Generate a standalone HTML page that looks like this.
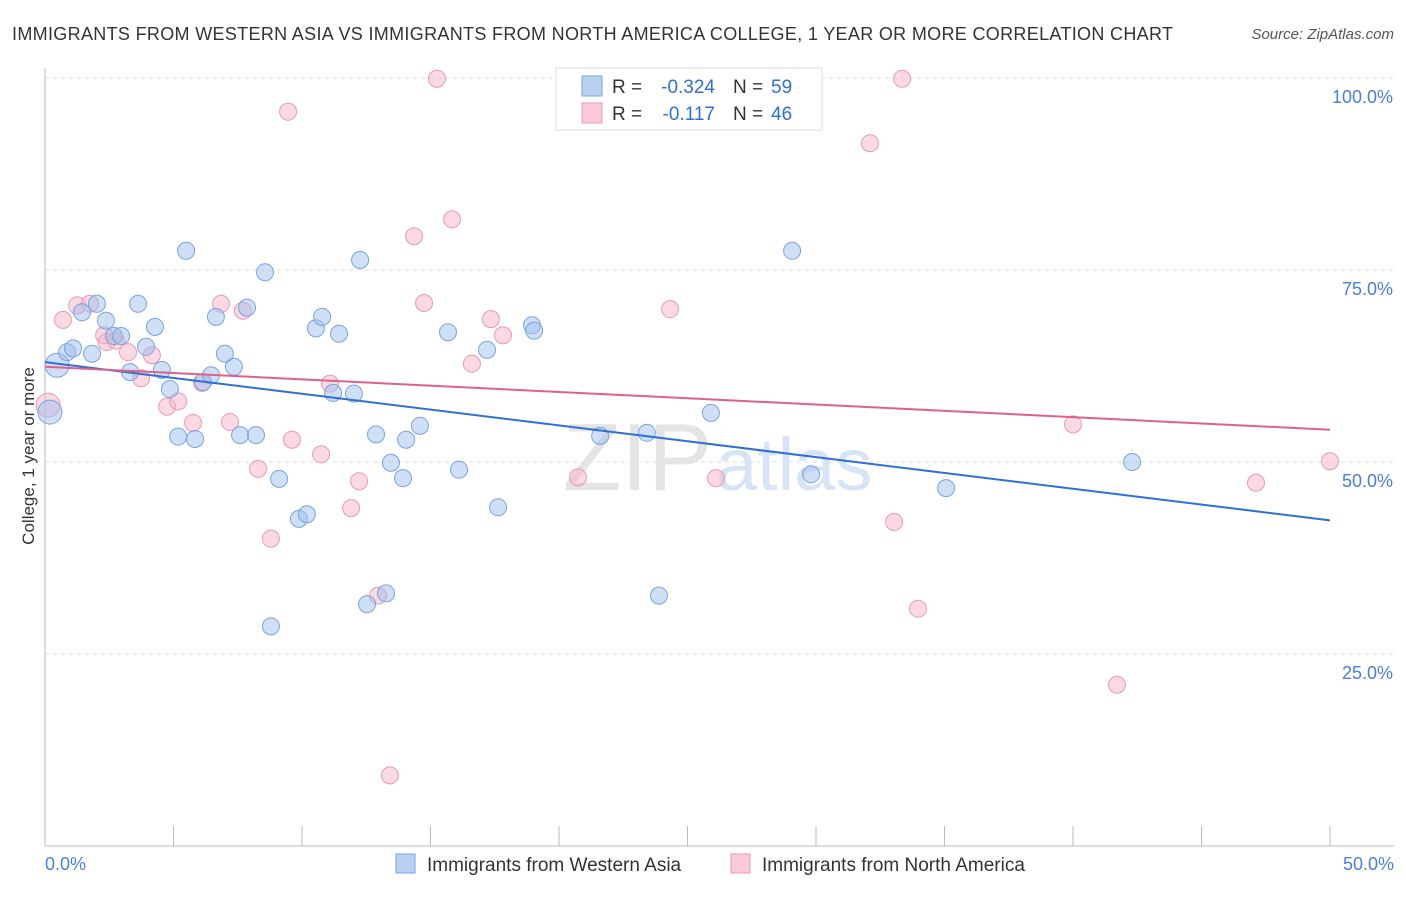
<!DOCTYPE html>
<html><head><meta charset="utf-8"><style>
body{margin:0;background:#fff;font-family:"Liberation Sans",sans-serif;}
svg text{font-family:"Liberation Sans",sans-serif;}
</style></head><body>
<svg id="chart" width="1406" height="892">
<text x="12" y="40" font-size="18" fill="#333" textLength="1161">IMMIGRANTS FROM WESTERN ASIA VS IMMIGRANTS FROM NORTH AMERICA COLLEGE, 1 YEAR OR MORE CORRELATION CHART</text>
<text x="1394" y="39" font-size="15" fill="#555" font-style="italic" text-anchor="end">Source: ZipAtlas.com</text>
<text x="34" y="456" font-size="17" fill="#333" text-anchor="middle" transform="rotate(-90 34 456)">College, 1 year or more</text>
<g id="grid"></g>
<text x="712" y="490" font-size="96" font-family="Liberation Serif" fill="#e4e4e4" text-anchor="end">ZIP</text>
<text x="716" y="490" font-size="74" fill="#d6e4f5">atlas</text>
<g id="pts"></g>
<g id="lines"></g>
<g>
<rect x="556" y="68" width="266" height="62" fill="#fff" stroke="#ddd"/>
<rect x="582" y="76" width="20" height="20" fill="#b9d0f3" stroke="#7aa3e0"/>
<rect x="582" y="103" width="20" height="20" fill="#f9c9d8" stroke="#e89ab3"/>
<text x="612" y="93" font-size="19" fill="#333">R =</text>
<text x="715" y="93" font-size="19" fill="#2f6fd6" text-anchor="end">-0.324</text>
<text x="733" y="93" font-size="19" fill="#333">N =</text>
<text x="771" y="93" font-size="19" fill="#2f6fd6">59</text>
<text x="612" y="120" font-size="19" fill="#333">R =</text>
<text x="715" y="120" font-size="19" fill="#2f6fd6" text-anchor="end">-0.117</text>
<text x="733" y="120" font-size="19" fill="#333">N =</text>
<text x="771" y="120" font-size="19" fill="#2f6fd6">46</text>
</g>
<g>
<rect x="396" y="854" width="19" height="19" fill="#b9d0f3" stroke="#7aa3e0"/>
<text x="427" y="871" font-size="19" fill="#333">Immigrants from Western Asia</text>
<rect x="731" y="854" width="19" height="19" fill="#f9c9d8" stroke="#e89ab3"/>
<text x="762" y="871" font-size="19" fill="#333">Immigrants from North America</text>
</g>
</svg>
<script>
const blueX=[0.19,0.47,0.86,1.09,1.44,1.83,2.02,2.37,2.68,2.96,3.31,3.62,3.93,4.28,4.55,4.86,5.18,5.49,5.84,6.15,6.46,6.65,7.00,7.35,7.59,7.86,8.21,8.56,8.79,9.11,9.88,10.19,10.54,10.78,11.21,11.44,12.02,12.26,12.53,12.88,13.27,13.46,13.93,14.05,14.59,15.68,16.11,17.2,17.63,18.95,19.03,21.6,23.42,23.89,25.91,29.07,29.81,35.06,42.3];
const blueY=[56.5,62.6,64.3,64.8,69.5,64.1,70.6,68.4,66.4,66.4,61.7,70.6,65.0,67.6,62.0,59.5,53.3,77.5,53.0,60.4,61.3,68.9,64.1,62.4,53.5,70.1,53.5,74.7,28.6,47.8,42.6,43.2,67.4,68.9,59.0,66.7,58.9,76.3,31.5,53.6,32.9,49.9,47.9,52.9,54.7,66.9,49.0,64.6,44.1,67.8,67.1,53.4,53.8,32.6,56.4,77.5,48.4,46.6,50.0];
const pinkX=[0.12,0.7,1.25,1.75,2.3,2.4,2.76,3.23,3.74,4.16,4.75,5.18,5.76,6.11,6.85,7.2,7.7,8.29,8.79,9.46,9.61,10.74,11.09,11.91,12.22,12.96,13.42,14.36,14.75,15.25,15.84,16.61,17.35,17.82,20.74,24.32,26.11,32.1,33.04,33.35,33.97,40.0,41.71,47.12,50.0];
const pinkY=[57.4,68.5,70.4,70.6,66.5,65.6,65.8,64.3,60.9,63.9,57.2,57.9,55.1,60.3,70.6,55.2,69.7,49.1,40.0,95.6,52.9,51.0,60.2,44.0,47.5,32.6,9.2,79.4,70.7,99.9,81.6,62.8,68.6,66.5,48.0,69.9,47.9,91.5,42.2,99.9,30.9,54.9,21.0,47.3,50.1];
const blueTrend=[63.0,42.4];
const pinkTrend=[62.4,54.2];
const yTicks=[25,50,75,100];
const xTicks=[0,5,10,15,20,25,30,35,40,45,50];
const NS="http://www.w3.org/2000/svg";
const sx=v=>45+v*25.7, sy=v=>846-v*7.68;
function mk(tag,attrs,parent){const e=document.createElementNS(NS,tag);for(const k in attrs)e.setAttribute(k,attrs[k]);parent.appendChild(e);return e;}
const grid=document.getElementById('grid');
yTicks.forEach(t=>{
 const l=mk('line',{x1:45,x2:1394,y1:sy(t),y2:sy(t),stroke:'#ddd','stroke-dasharray':'4,4'},grid);
 
 
 const tx=mk('text',{x:1393,y:sy(t)+25,'font-size':18,fill:'#4a7fd6','text-anchor':'end'},grid);
 tx.textContent=t.toFixed(1)+'%';
 
 
});
const ax=mk('line',{x1:45,x2:1394,y1:846,y2:846,stroke:'#bbb'},grid);


const ay=mk('line',{x1:45,x2:45,y1:68,y2:846,stroke:'#bbb'},grid);


xTicks.forEach(t=>{
 const l=mk('line',{x1:sx(t),x2:sx(t),y1:826,y2:846,stroke:'#bbb'},grid);
 
 
});
[[0,'start'],[50,'end']].forEach(([t,a])=>{
 const tx=mk('text',{x:t==0?45:1394,y:870,'font-size':18,fill:'#4a7fd6','text-anchor':a},grid);
 tx.textContent=t.toFixed(1)+'%';
 
 
});
const pts=document.getElementById('pts');
function dots(X,Y,fill,stroke,name){
 X.forEach((x,i)=>{
  const big=x<0.5;
  const c=mk('circle',{cx:sx(x),cy:sy(Y[i]),r:big?12:8.5,fill:fill,stroke:stroke,'stroke-width':1},pts);
  
  
 });
}
dots(pinkX,pinkY,'rgba(246,180,200,0.5)','#e89ab3','pink-point');
dots(blueX,blueY,'rgba(160,192,238,0.5)','#7aa3e0','blue-point');
const lines=document.getElementById('lines');
const bl=mk('line',{x1:sx(0),y1:sy(blueTrend[0]),x2:sx(50),y2:sy(blueTrend[1]),stroke:'#2f6fd6','stroke-width':2},lines);


const pl=mk('line',{x1:sx(0),y1:sy(pinkTrend[0]),x2:sx(50),y2:sy(pinkTrend[1]),stroke:'#e0608a','stroke-width':2},lines);


</script>
</body></html>
